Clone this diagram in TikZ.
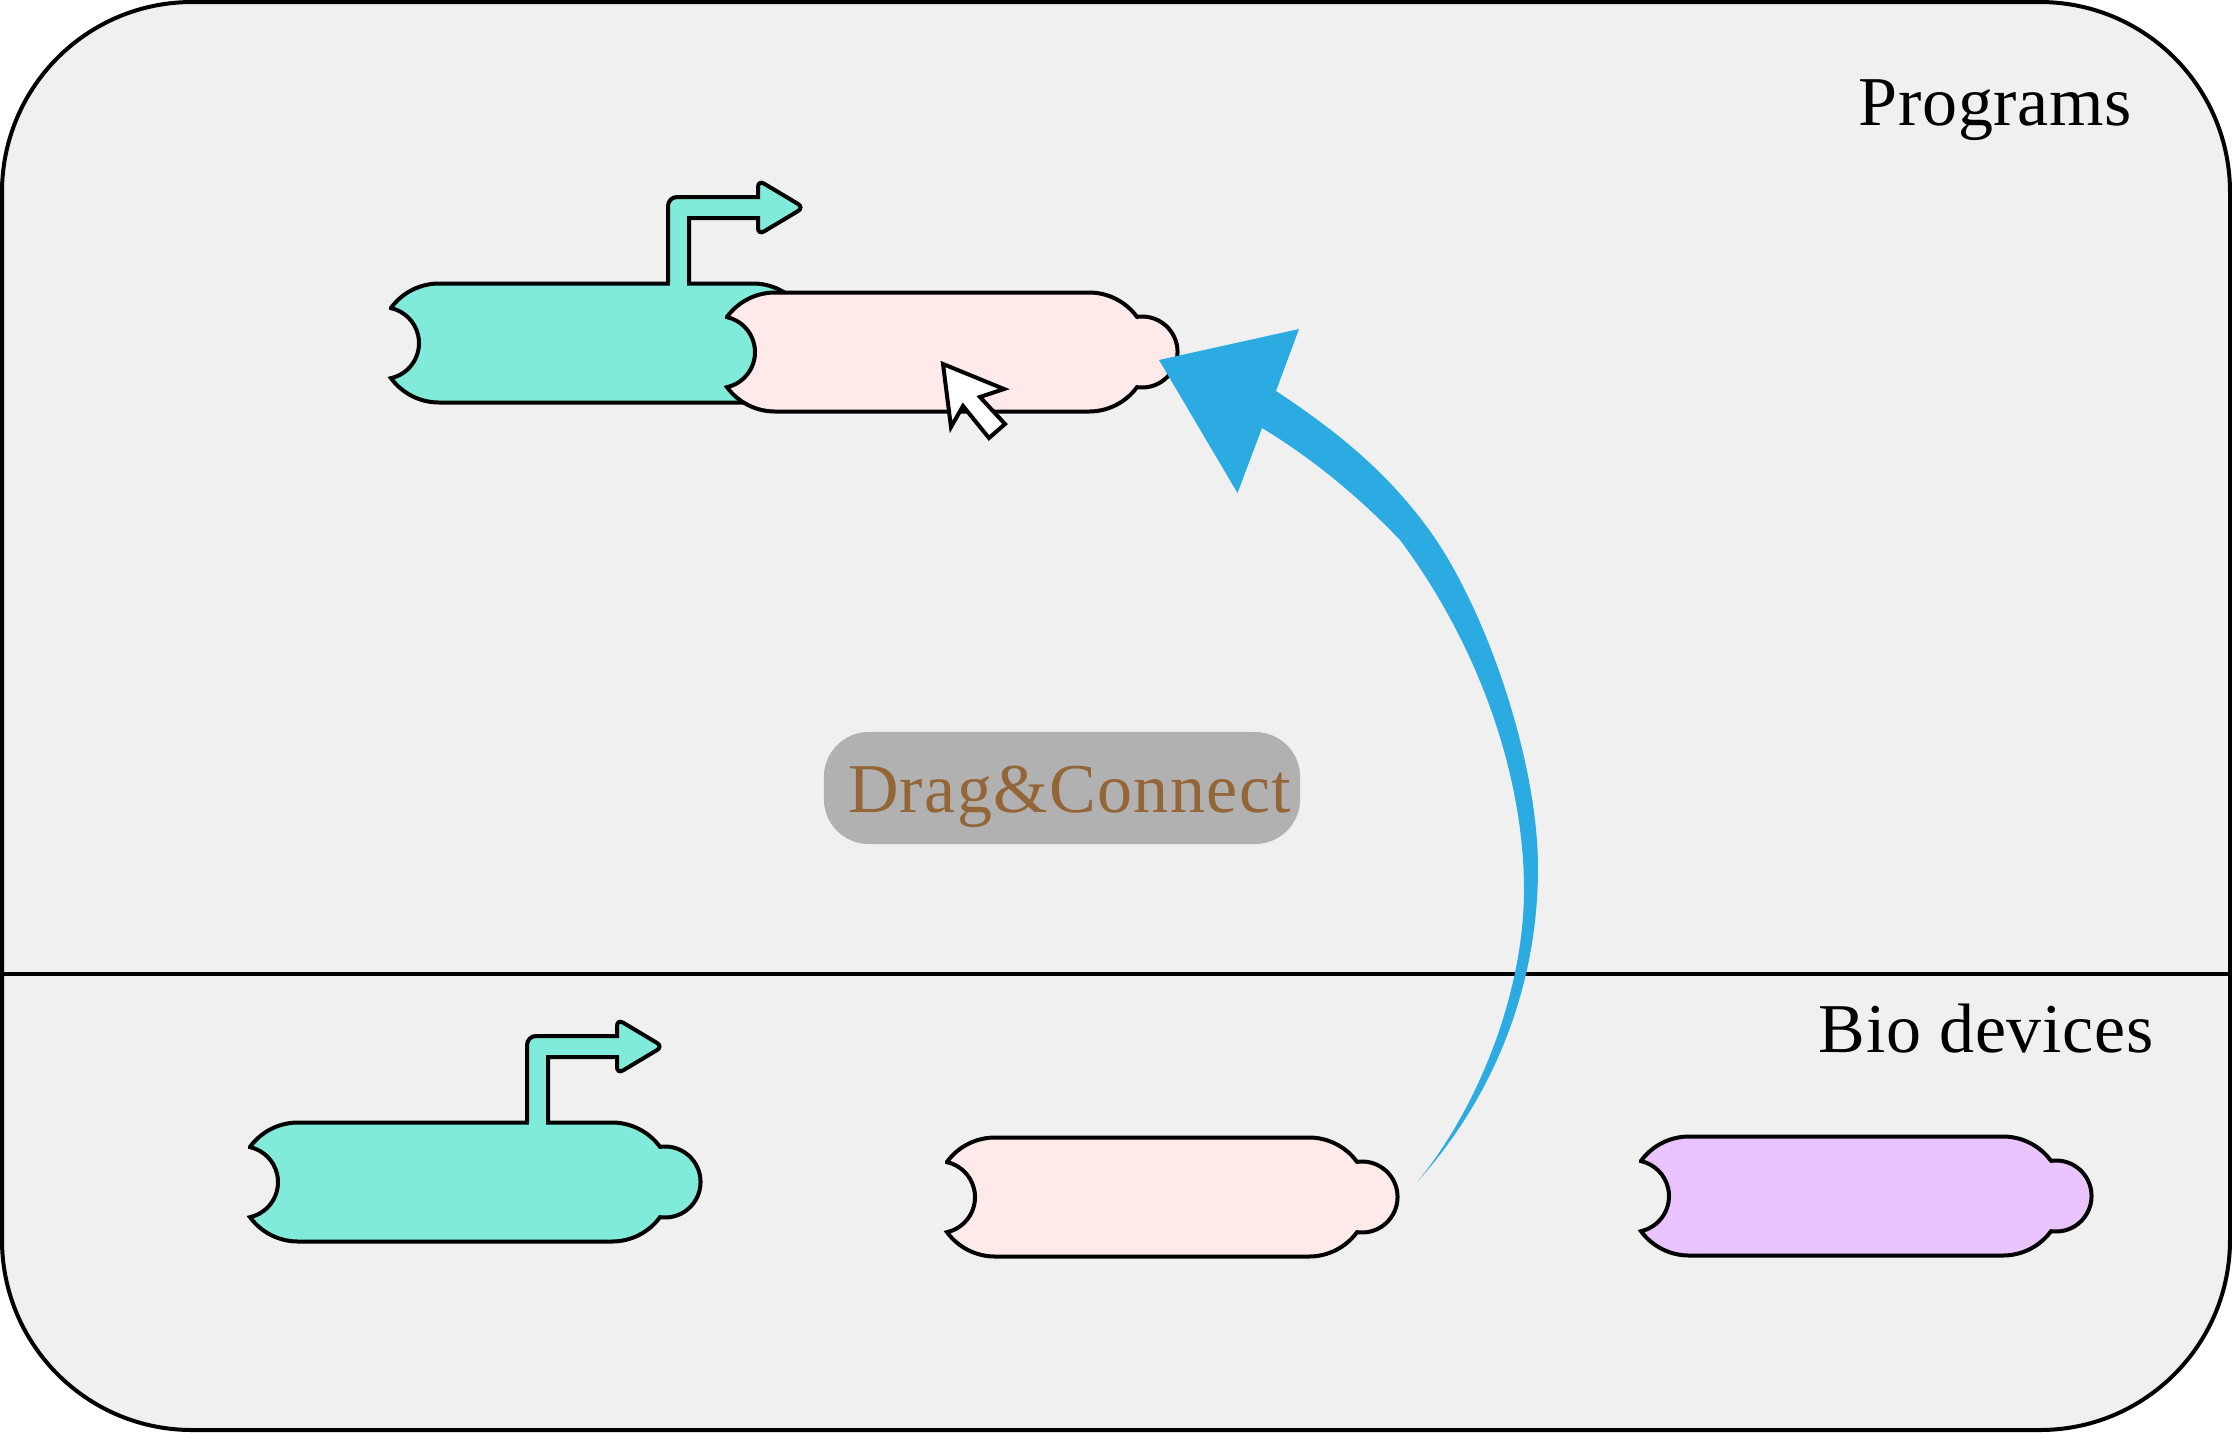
\documentclass[tikz,border=0pt]{standalone}
\usepackage{fontspec}
\setmainfont[LetterSpace=1]{Liberation Serif}
\definecolor{panelgray}{HTML}{F0F0F0}
\definecolor{dragbg}{HTML}{B1B1B1}
\definecolor{dragtext}{HTML}{936537}
\definecolor{promotercol}{HTML}{80EBDA}
\definecolor{rbscol}{HTML}{FFE9E9}
\definecolor{cdscol}{HTML}{E9C4FF}
\definecolor{arrowblue}{HTML}{2BABE2}
\tikzset{
    partline/.style={black, line width=0.04cm, line join=miter},
    paneltext/.style={inner sep=0pt, anchor=base west, font=\fontsize{19.9}{24}\selectfont},
    dragbox/.style={fill=dragbg, text=dragtext, rounded corners=0.45cm, inner sep=0pt,
        minimum width=4.76cm, minimum height=1.12cm, text height=0.6cm, text depth=0.12cm,
        font=\fontsize{19.9}{24}\selectfont\addfontfeature{LetterSpace=2}}
}
% one part, left tip of the socket at (#1,#2)
\newcommand{\biopart}[3]{
    \filldraw[partline, fill=#3, shift={(#1,#2)}] (0,35.14)
        arc[start angle=143.8, end angle=90, radius=59.5] -- ++(314,0)
        arc[start angle=90, end angle=36.2, radius=59.5]
        arc[start angle=98.15, end angle=-98.15, radius=35.5]
        arc[start angle=-36.2, end angle=-90, radius=59.5] -- ++(-314,0)
        arc[start angle=-90, end angle=-143.8, radius=59.5]
        arc[start angle=-77.3, end angle=77.3, radius=35.9] -- cycle;
}
% bent arrow standing on a part
\newcommand{\bentarrow}[2]{
    \begin{scope}[shift={(#1,#2)}]
        \fill[promotercol] (279,56) rectangle (296,62);
        \filldraw[partline, fill=promotercol] (277,59.5)
            [rounded corners=0.09cm] -- (277,146) [sharp corners] -- (367,146)
            [rounded corners=0.07cm] -- (367,163) -- (413,135.5) -- (367,108)
            [sharp corners] -- (367,125) -- (298,125) -- (298,59.5);
    \end{scope}
}
\begin{document}
\begin{tikzpicture}[x=0.01cm, y=0.01cm]
    \useasboundingbox (0,0) rectangle (2232,-1432);
    \filldraw[partline, fill=panelgray, rounded corners=1.9cm] (2,-2) rectangle (2230,-1430);
    \coordinate (splitleft) at (0,-974);
    \coordinate (splitright) at (2232,-974);
    \draw[partline] (splitleft) -- (splitright);

    \node[paneltext] (programs) at (1858,-125) {Programs};
    \node[paneltext] (biodevices) at (1818,-1052) {Bio devices};
    \node[dragbox] (dragconnect) at (1062,-788) {\hspace*{0.15cm}Drag\&Connect};

    % the two parts in the program
    \biopart{391}{-343}{promotercol}
    \bentarrow{391}{-343}
    \biopart{727}{-352}{rbscol}

    % the three bio devices
    \biopart{250}{-1182}{promotercol}
    \bentarrow{250}{-1182}
    \biopart{947}{-1197}{rbscol}
    \biopart{1641}{-1196}{cdscol}

    % tapered arrow
    \fill[arrowblue] (1418,-1181)
        .. controls (1495,-1095) and (1538,-985) .. (1538,-868)
        .. controls (1538,-760) and (1485,-605) .. (1427,-527)
        .. controls (1385,-470) and (1335,-430) .. (1276,-391)
        -- (1299,-329) -- (1159,-360) -- (1237.5,-493) -- (1262,-428)
        .. controls (1315,-460) and (1362,-500) .. (1400,-540)
        .. controls (1475,-640) and (1524,-770) .. (1524,-890)
        .. controls (1524,-990) and (1480,-1105) .. (1418,-1181) -- cycle;

    % cursor
    \filldraw[partline, fill=white] (943,-364) -- (1004,-389) -- (980,-397) -- (1005,-424)
        -- (989,-438) -- (963,-406) -- (951,-427) -- cycle;
\end{tikzpicture}
\end{document}
